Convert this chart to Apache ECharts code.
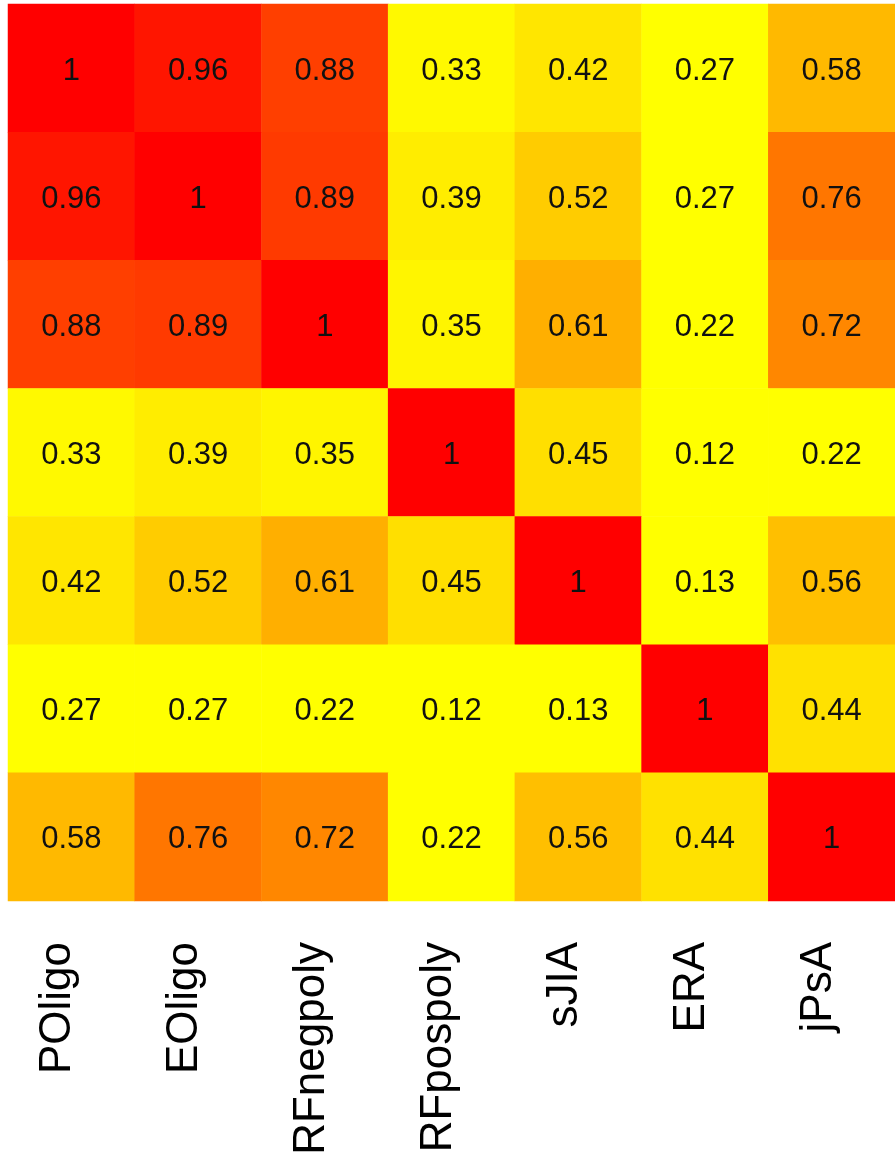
<!DOCTYPE html>
<html>
<head>
<meta charset="utf-8">
<title>Correlation heatmap</title>
<script src="https://cdn.jsdelivr.net/npm/echarts@6/dist/echarts.min.js"></script>
<style>
  html, body { margin: 0; padding: 0; background: #ffffff; }
  #chart { width: 895px; height: 1160px; }
</style>
</head>
<body>
<div id="chart"></div>
<script>
// Disease subgroups (same order on both axes)
const groups = ['POligo', 'EOligo', 'RFnegpoly', 'RFpospoly', 'sJIA', 'ERA', 'jPsA'];

// Pairwise correlations, one row per subgroup
const rowPOligo    = [1,    0.96, 0.88, 0.33, 0.42, 0.27, 0.58];
const rowEOligo    = [0.96, 1,    0.89, 0.39, 0.52, 0.27, 0.76];
const rowRFnegpoly = [0.88, 0.89, 1,    0.35, 0.61, 0.22, 0.72];
const rowRFpospoly = [0.33, 0.39, 0.35, 1,    0.45, 0.12, 0.22];
const rowSJIA      = [0.42, 0.52, 0.61, 0.45, 1,    0.13, 0.56];
const rowERA       = [0.27, 0.27, 0.22, 0.12, 0.13, 1,    0.44];
const rowJPsA      = [0.58, 0.76, 0.72, 0.22, 0.56, 0.44, 1];

const rows = [rowPOligo, rowEOligo, rowRFnegpoly, rowRFpospoly, rowSJIA, rowERA, rowJPsA];

// Heat palette: yellow for weak, red for perfect correlation
const heatColors = ['#ffff00', '#ffeb00', '#ffd200', '#ffb300', '#ff8f00', '#ff6500', '#ff3500', '#ff0000'];

const cells = [];
rows.forEach((row, r) => {
  row.forEach((v, c) => {
    cells.push([c, r, v]);
  });
});

const chart = echarts.init(document.getElementById('chart'), null, { renderer: 'canvas' });

chart.setOption({
  animation: false,
  backgroundColor: '#ffffff',
  textStyle: { fontFamily: 'Liberation Sans, Arial, sans-serif' },
  grid: { left: 8, right: 0, top: 4, bottom: 259, containLabel: false },
  xAxis: {
    type: 'category',
    data: groups,
    position: 'bottom',
    axisLine: { show: false },
    axisTick: { show: false },
    splitLine: { show: false },
    axisLabel: {
      interval: 0,
      rotate: 90,
      margin: 41,
      fontSize: 44,
      color: '#000000',
      fontFamily: 'Liberation Sans, Arial, sans-serif',
      verticalAlign: 'bottom',
      lineHeight: 26
    }
  },
  yAxis: {
    type: 'category',
    data: groups,
    inverse: true,
    axisLine: { show: false },
    axisTick: { show: false },
    axisLabel: { show: false },
    splitLine: { show: false }
  },
  visualMap: {
    show: false,
    type: 'continuous',
    min: 0.3,
    max: 1,
    dimension: 2,
    inRange: { color: heatColors }
  },
  series: [{
    type: 'heatmap',
    data: cells,
    label: {
      show: true,
      fontSize: 31,
      color: '#111111',
      fontFamily: 'Liberation Sans, Arial, sans-serif',
      offset: [0, 3],
      formatter: p => String(p.value[2])
    },
    itemStyle: { borderWidth: 0 },
    emphasis: { disabled: true }
  }]
});
</script>
</body>
</html>
